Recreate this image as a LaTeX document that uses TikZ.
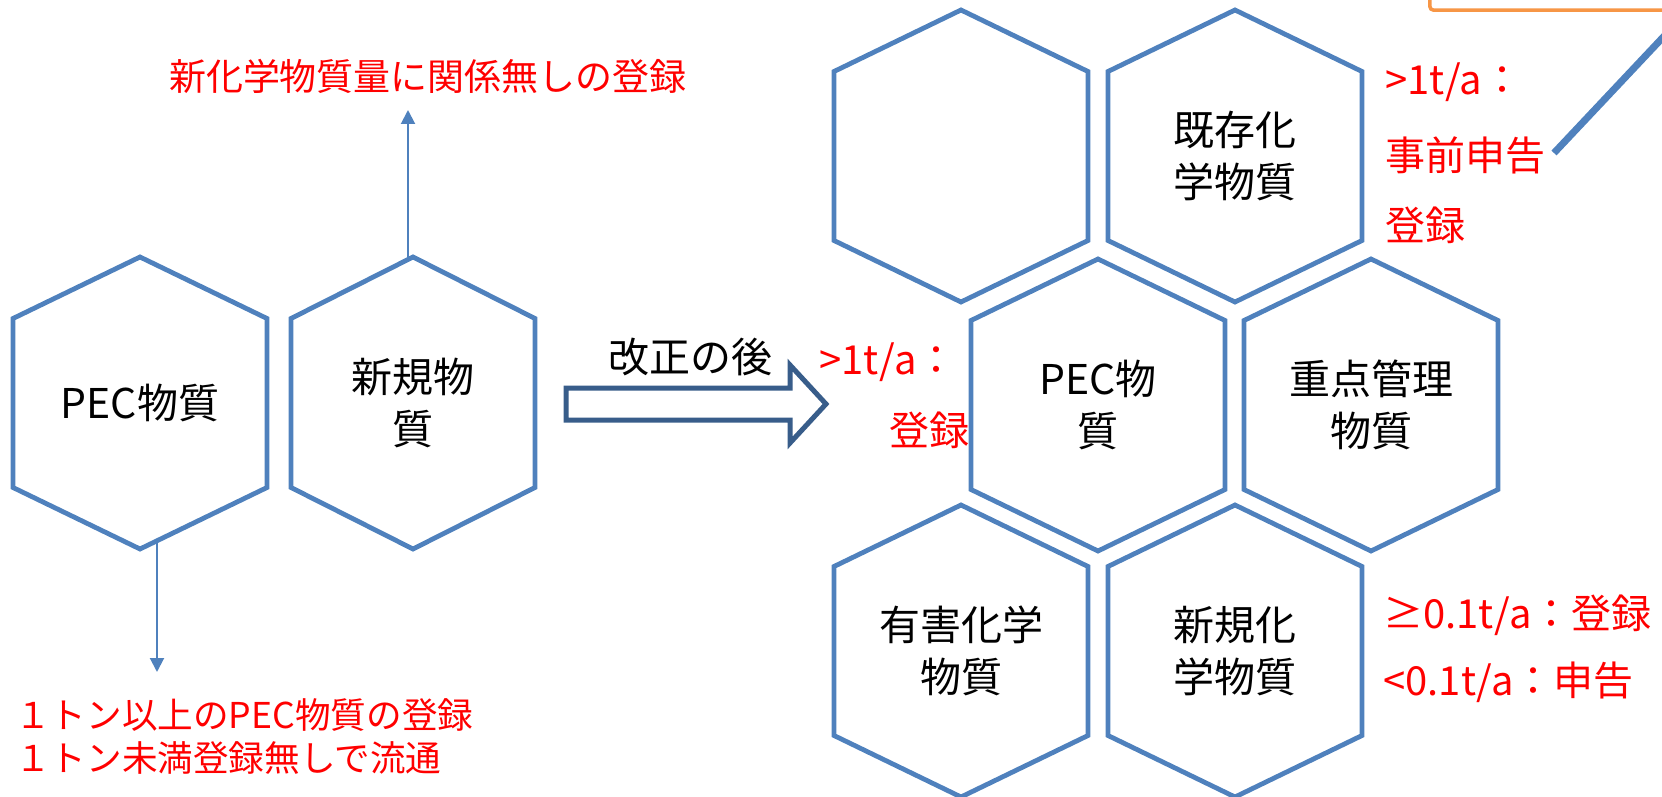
\documentclass[tikz,border=0pt]{standalone}
\usepackage{fontspec}
\setmainfont{Noto Sans CJK JP}
\usetikzlibrary{arrows.meta}
\definecolor{hexblue}{HTML}{4F81BD}
\definecolor{darkblue}{HTML}{385D8A}
\definecolor{orangeline}{HTML}{F79646}
\tikzset{
  hexline/.style={draw=hexblue, line width=2.4pt, line join=miter},
  hexlabel/.style={font=\fontsize{20.5}{26}\selectfont, align=center, inner sep=0pt, minimum height=146pt},
  redtext/.style={text=red, font=\fontsize{20}{26}\selectfont, inner sep=0pt},
  redsmall/.style={text=red, font=\fontsize{18.5}{21.5}\selectfont, inner sep=0pt},
  redbottom/.style={text=red, font=\fontsize{17.8}{21.5}\selectfont, inner sep=0pt},
  blacktext/.style={text=black, font=\fontsize{20.5}{26}\selectfont, inner sep=0pt},
  thinarrow/.style={draw=hexblue, line width=1pt, -{Triangle[width=7pt,length=7pt]}},
  blockarrow/.style={draw=darkblue, line width=2.5pt, line join=miter, fill=white},
  calloutline/.style={draw=hexblue, line width=3.5pt},
  calloutbox/.style={draw=orangeline, line width=1.75pt, rounded corners=2pt, fill=white}
}
% name, x, y, half-width (px), text
\newcommand\drawhex[5]{%
  \draw[hexline] ({#2},{#3-146}) -- ({#2+#4},{#3-84.5}) -- ({#2+#4},{#3+84.5})
    -- ({#2},{#3+146}) -- ({#2-#4},{#3+84.5}) -- ({#2-#4},{#3-84.5}) -- cycle;
  \node[hexlabel, minimum width=#4pt] (#1) at (#2,#3) {#5};
}
\begin{document}
\begin{tikzpicture}[x=0.5pt,y=-0.5pt]
\useasboundingbox (0,0) rectangle (1662,797);
\clip (0,0) rectangle (1662,797);

% left hexagons
\drawhex{h1}{140}{403}{127}{PEC物質}
\drawhex{h2}{413}{403}{122}{新規物\\質}

% right honeycomb
\drawhex{hA}{961}{156}{127}{}
\drawhex{hB}{1235}{156}{127}{既存化\\学物質}
\drawhex{hC}{1098}{405}{127}{PEC物\\質}
\drawhex{hD}{1371}{405}{127}{重点管理\\物質}
\drawhex{hE}{961}{651}{127}{有害化学\\物質}
\drawhex{hF}{1235}{651}{127}{新規化\\学物質}

% texts and arrows of the left part
\node[redsmall] (toptext) at (428,76) {新化学物質量に関係無しの登録};
\coordinate (upend) at (408,110);
\draw[thinarrow] ([xshift=-2.5pt,yshift=-1pt]h2.north) -- (upend);

\node[redbottom, align=left, anchor=west] (bottext) at (15,736.5) {１トン以上のPEC物質の登録\\１トン未満登録無しで流通};
\coordinate (downend) at (157,672);
\draw[thinarrow] ([xshift=8.5pt,yshift=4pt]h1.south) -- (downend);

% block arrow
\draw[blockarrow] (566,388) -- (790,388) -- (790,365) -- (826,404) -- (790,443) -- (790,420) -- (566,420) -- cycle;
\node[blacktext] (kaisei) at (690,357) {改正の後};

% labels by PEC hex
\node[redtext, anchor=east] (pecA) at (957,362) {>1t/a：};
\node[redtext, anchor=east] (pecB) at (970,430) {登録};

% labels by existing substances
\node[redtext, anchor=west] (exA) at (1385,82) {>1t/a：};
\node[redtext, anchor=west] (exB) at (1385,155) {事前申告};
\node[redtext, anchor=west] (exC) at (1385,225) {登録};

% labels by new substances
\node[redtext, anchor=west] (newA) at (1383,615) {≥0.1t/a：登録};
\node[redtext, anchor=west] (newB) at (1383,682) {<0.1t/a：申告};

% callout (cut off by the page edge)
\node[calloutbox, anchor=south west, minimum width=150pt, minimum height=30pt] (callbox) at (1428,12) {};
\coordinate (callend) at (1700,-2);
\draw[calloutline] (1554,153) -- (callend);
\end{tikzpicture}
\end{document}
